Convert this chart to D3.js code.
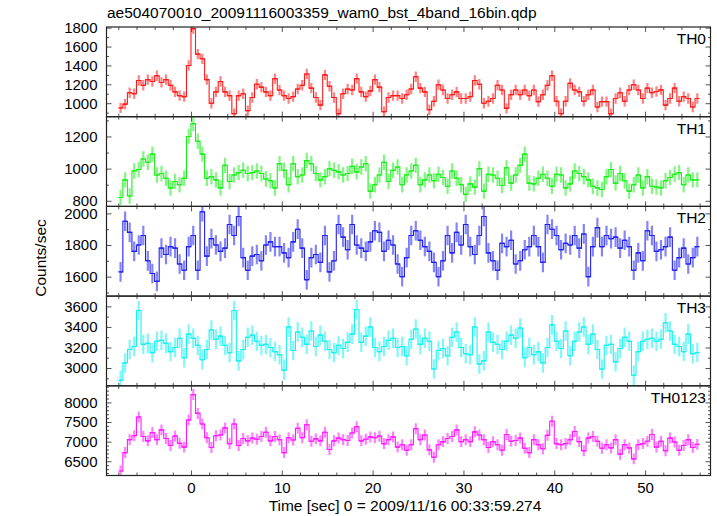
<!DOCTYPE html>
<html>
<head>
<meta charset="utf-8">
<script src="https://cdn.jsdelivr.net/npm/d3@7/dist/d3.min.js"></script>
<style>
  html, body { margin: 0; padding: 0; background: #fff; }
  svg text { font-family: "Liberation Sans", Arial, Helvetica, sans-serif; fill: #000; }
</style>
</head>
<body>
<svg id="chart" width="717" height="516"></svg>
<script>
// ---------------- data ----------------
const titleText = "ae504070010_20091116003359_wam0_bst_4band_16bin.qdp";
const xTitle = "Time [sec] 0 = 2009/11/16 00:33:59.274";
const yTitle = "Counts/sec";
const seriesNames = ["TH0", "TH1", "TH2", "TH3", "TH0123"];
const tStart = -7.75;      // centre of first bin (s)
const binWidth = 0.5;      // s
const xTickLabels = [0, 10, 20, 30, 40, 50];

const TH0 = [950,990,1110,1100,1240,1190,1250,1230,1290,1220,1250,1190,1120,1080,1070,1400,
 1790,1520,1470,1250,1000,1120,1230,1120,1080,890,1080,1100,920,1060,1200,1170,
 1120,1080,1260,1140,1080,1050,1070,1150,1190,1310,1160,1060,980,1300,1180,1060,
 890,1100,1150,1140,1260,1120,1070,1130,1250,1170,910,1060,1080,1080,1050,1090,
 1150,1280,1160,1120,930,1020,1195,1140,1050,1090,1120,1050,1050,1070,1240,1200,
 1000,1020,1050,1190,1140,945,1090,1140,1090,1140,1080,1140,1017,1090,1190,1290,
 1020,890,1020,1210,1140,1120,1020,1090,1140,960,1017,1017,890,1050,1110,1020,
 1140,1195,1140,1050,1160,1110,1124,1141,980,1050,1160,1020,1070,1050,960,1050];

const TH1 = [820,930,830,985,995,1060,1040,1090,960,970,940,880,920,900,940,1200,
 1280,1170,1090,940,950,930,880,1020,920,960,975,990,970,975,985,970,
 935,925,880,1030,990,900,1030,950,960,1050,1030,970,930,950,1000,990,
 980,960,970,1015,980,1010,1030,860,900,960,1040,920,990,1010,900,960,
 985,1020,900,930,960,925,965,945,890,985,940,900,840,905,885,1000,
 860,965,960,940,895,1005,910,960,1020,1090,910,905,940,965,940,890,
 965,960,880,905,985,970,950,930,890,880,870,950,995,910,970,925,
 860,900,960,880,950,890,885,880,925,945,965,975,900,960,930,930];

const TH2 = [1630,1950,1880,1760,1800,1860,1700,1620,1570,1780,1740,1790,1780,1680,1640,1790,
 1860,1640,2010,1730,1840,1800,1760,1780,1930,1860,1980,1720,1640,1730,1740,1700,
 1800,1820,1790,1790,1750,1720,1820,1900,1780,1580,1720,1740,1690,1860,1630,1700,
 1930,1850,1770,1930,1800,1780,1760,1820,1890,1880,1760,1830,1800,1680,1600,1720,
 1860,1890,1830,1790,1760,1690,1600,1700,1860,1750,1880,1800,1930,1790,1740,1860,
 1980,1750,1700,1640,1810,1790,1830,1680,1700,1770,1790,1860,1790,1690,1930,1900,
 1860,1770,1810,1800,1860,1780,1870,1600,1790,1910,1790,1860,1840,1850,1780,1830,
 1790,1640,1750,1700,1890,1860,1760,1770,1790,1850,1640,1720,1780,1680,1720,1790];

const TH3 = [2880,3050,3180,3210,3560,3230,3240,3150,3260,3270,3240,3160,3200,3290,3100,3330,
 3290,3220,3080,3180,3370,3280,3310,3220,3150,3560,3070,3180,3300,3320,3260,3220,
 3230,3200,3160,3130,2980,3400,3170,3350,3300,3230,3360,3210,3320,3260,3180,3150,
 3220,3190,3250,3330,3570,3250,3310,3400,3200,3160,3210,3270,3290,3200,3210,3120,
 3280,3380,3230,3290,3260,2990,3170,3190,3120,3300,3350,3200,3140,3130,3400,3040,
 3070,3350,3250,3230,3180,3260,3320,3290,3390,3100,3200,3130,3160,3050,3200,3420,
 3260,3190,3360,3120,3260,3350,3400,3230,3330,3180,2990,3220,3230,3060,3190,3300,
 3260,2930,3160,3260,3280,3290,3260,3280,3440,3360,3230,3210,3160,3330,3140,3150];

const TH0123 = [6250,6720,7050,7150,7630,7130,7020,7230,7050,7300,7080,6900,7140,6960,6860,7550,
 8200,7720,7450,7100,6850,7150,7170,7350,6950,7450,6900,7080,7020,7090,7060,7130,
 7240,7020,7130,7050,6720,7100,7040,7340,7100,7430,7010,7070,7020,7240,6800,7020,
 7090,7050,7030,7220,7380,7020,7060,7120,7100,7140,6950,7050,7120,6860,6920,6780,
 6920,7330,7050,7170,6790,6600,6920,7000,7080,7130,7300,7000,7050,7000,7250,7170,
 7050,6850,7000,6920,6780,7180,7010,7030,7090,6830,6720,7050,6920,6820,7160,7520,
 6950,6920,6950,7050,7260,7000,6770,7090,7130,7010,6830,6920,6840,7050,6680,6920,
 6840,6560,6920,6950,7010,7180,6860,7010,6770,7090,6990,6780,6900,7050,6850,6930];

// typical 1-sigma error of one bin
const errors = [55, 48, 62, 95, 140];
const yDomains = [[857, 1807], [765, 1323], [1477, 2044], [2827, 3700], [6136, 8424]];
const yMajorTicks = [[1000,1200,1400,1600,1800],[800,1000,1200],[1600,1800,2000],[3000,3200,3400,3600],[6500,7000,7500,8000]];
const yMinorStep = [100, 100, 100, 100, 100];
const colors = ["#ff1a1a", "#1aee1a", "#2020f0", "#1af0f0", "#ff1aff"];
const seriesValues = [TH0, TH1, TH2, TH3, TH0123];

// ---------------- layout ----------------
const left = 106.5, right = 710.5;
const top0 = 27, bottom = 475.5;
const nP = 5;
const pH = (bottom - top0) / nP;
const fontSize = 15;

const svg = d3.select("#chart");
const x = d3.scaleLinear().domain([-9.3, 57.2]).range([left, right]);
const xMinor = d3.range(-8, 57, 2).filter(v => v % 10 !== 0);
const fmt = d3.format("d");

function styleAxis(g) {
  g.select(".domain").remove();
  g.selectAll(".tick line").attr("stroke", "#555").attr("stroke-width", 1);
  g.selectAll(".tick text").attr("font-size", fontSize).attr("font-family", "Liberation Sans, Arial, sans-serif").attr("fill", "#000");
}

for (let k = 0; k < nP; k++) {
  const pt = top0 + k * pH, pb = pt + pH;
  const y = d3.scaleLinear().domain(yDomains[k]).range([pb, pt]);
  const g = svg.append("g");

  const cid = "clip" + k;
  svg.append("clipPath").attr("id", cid).append("rect")
    .attr("x", left).attr("y", pt).attr("width", right - left).attr("height", pH);

  // data
  const vals = seriesValues[k];
  const err = errors[k];
  const pts = vals.map((v, i) => ({ t: tStart + i * binWidth, v: v }));
  const dg = g.append("g").attr("clip-path", `url(#${cid})`);
  dg.selectAll("line.err").data(pts).enter().append("line")
    .attr("class", "err")
    .attr("x1", d => x(d.t)).attr("x2", d => x(d.t))
    .attr("y1", d => y(d.v - err)).attr("y2", d => y(d.v + err))
    .attr("stroke", colors[k]).attr("stroke-width", 2.2).attr("stroke-opacity", 0.55);
  const stepLine = d3.line().x(d => x(d.t)).y(d => y(d.v)).curve(d3.curveStep);
  dg.append("path").datum(pts).attr("d", stepLine)
    .attr("fill", "none").attr("stroke", colors[k]).attr("stroke-width", 1.1);
  dg.selectAll("line.bin").data(pts).enter().append("line")
    .attr("class", "bin")
    .attr("x1", d => x(d.t - binWidth / 2)).attr("x2", d => x(d.t + binWidth / 2))
    .attr("y1", d => y(d.v)).attr("y2", d => y(d.v))
    .attr("stroke", colors[k]).attr("stroke-width", 1.1);

  // y axes
  const d0 = yDomains[k];
  const minor = d3.range(Math.ceil(d0[0] / yMinorStep[k]) * yMinorStep[k], d0[1], yMinorStep[k])
    .filter(v => !yMajorTicks[k].includes(v));
  g.append("g").attr("transform", `translate(${left},0)`)
    .call(d3.axisLeft(y).tickValues(yMajorTicks[k]).tickSize(-5).tickPadding(9).tickFormat(fmt)).call(styleAxis);
  g.append("g").attr("transform", `translate(${left},0)`)
    .call(d3.axisLeft(y).tickValues(minor).tickSize(-2.5).tickFormat("")).call(styleAxis);
  g.append("g").attr("transform", `translate(${right},0)`)
    .call(d3.axisRight(y).tickValues(yMajorTicks[k]).tickSize(-5).tickFormat("")).call(styleAxis);
  g.append("g").attr("transform", `translate(${right},0)`)
    .call(d3.axisRight(y).tickValues(minor).tickSize(-2.5).tickFormat("")).call(styleAxis);

  // x axes (top and bottom, inward)
  g.append("g").attr("transform", `translate(0,${pt})`)
    .call(d3.axisTop(x).tickValues(xTickLabels).tickSize(-5).tickFormat("")).call(styleAxis);
  g.append("g").attr("transform", `translate(0,${pt})`)
    .call(d3.axisTop(x).tickValues(xMinor).tickSize(-3).tickFormat("")).call(styleAxis);
  const bAx = d3.axisBottom(x).tickValues(xTickLabels).tickSize(-5).tickPadding(7).tickFormat(fmt);
  if (k !== nP - 1) bAx.tickFormat("");
  g.append("g").attr("transform", `translate(0,${pb})`).call(bAx).call(styleAxis);
  g.append("g").attr("transform", `translate(0,${pb})`)
    .call(d3.axisBottom(x).tickValues(xMinor).tickSize(-3).tickFormat("")).call(styleAxis);

  // frame
  g.append("rect").attr("x", left).attr("y", pt).attr("width", right - left).attr("height", pH)
    .attr("fill", "none").attr("stroke", "#222").attr("stroke-width", 1.2);

  // series label
  g.append("text").attr("x", 706).attr("y", pt + 17).attr("text-anchor", "end")
    .attr("font-size", 15.5).text(seriesNames[k]);
}

// titles
svg.append("text").attr("x", 107).attr("y", 18).attr("font-size", 15.5).text(titleText);
svg.append("text").attr("x", 405).attr("y", 511).attr("text-anchor", "middle")
  .attr("font-size", 15.5).text(xTitle);
svg.append("text").attr("transform", "translate(46,258) rotate(-90)").attr("text-anchor", "middle")
  .attr("font-size", 15.5).text(yTitle);
</script>
</body>
</html>
